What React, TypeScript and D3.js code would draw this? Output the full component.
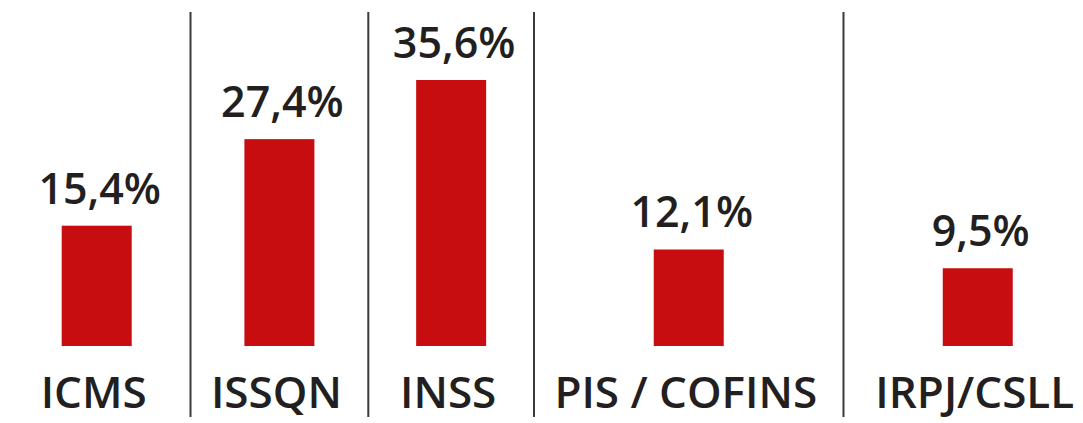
import React from "react";
import * as d3 from "d3";

const categories = ["ICMS", "ISSQN", "INSS", "PIS / COFINS", "IRPJ/CSLL"];
const values = [15.4, 27.4, 35.6, 12.1, 9.5];
const valueLabels = ["15,4%", "27,4%", "35,6%", "12,1%", "9,5%"];
// relative widths of the columns separated by vertical rules
const columnWidths = [187.6, 177.8, 165.7, 309.5, 268.5];

const W = 1083;
const H = 423;
const BAR_COLOR = "#c80d10";
const TEXT_COLOR = "#231f20";
const RULE_COLOR = "#3a3a3a";
const FONT = "'Open Sans', 'Noto Sans', sans-serif";

export default function App() {
  const baseline = 346;
  const bounds = [0, ...d3.cumsum(columnWidths)];
  const total = bounds[bounds.length - 1];
  const x = d3.scaleLinear().domain([0, total]).range([2.9, 2.9 + total]);
  const barWidth = 70;

  const y = d3.scaleLinear().domain([-1.28, 35.6]).range([baseline, 80]);

  const centers = categories.map((_, i) => (x(bounds[i]) + x(bounds[i + 1])) / 2);
  const rules = bounds.slice(1, -1).map((b) => x(b));

  return (
    <svg
      width={W}
      height={H}
      style={{ position: "absolute", left: 0, top: 0, background: "#fff" }}
      fontFamily={FONT}
    >
      {rules.map((rx, i) => (
        <line key={"r" + i} x1={rx} x2={rx} y1={12} y2={417} stroke={RULE_COLOR} strokeWidth={2} />
      ))}
      {categories.map((c, i) => (
        <g key={c}>
          <rect
            x={centers[i] - barWidth / 2}
            y={y(values[i])}
            width={barWidth}
            height={baseline - y(values[i])}
            fill={BAR_COLOR}
          />
          <text
            x={centers[i] + 3}
            y={y(values[i]) - 22}
            textAnchor="middle"
            fontSize={43}
            fontWeight={600}
            fill={TEXT_COLOR}
          >
            {valueLabels[i]}
          </text>
          <text
            x={centers[i] - 3}
            y={407.5}
            textAnchor="middle"
            fontSize={44}
            fontWeight={600}
            fill={TEXT_COLOR}
          >
            {c}
          </text>
        </g>
      ))}
    </svg>
  );
}
